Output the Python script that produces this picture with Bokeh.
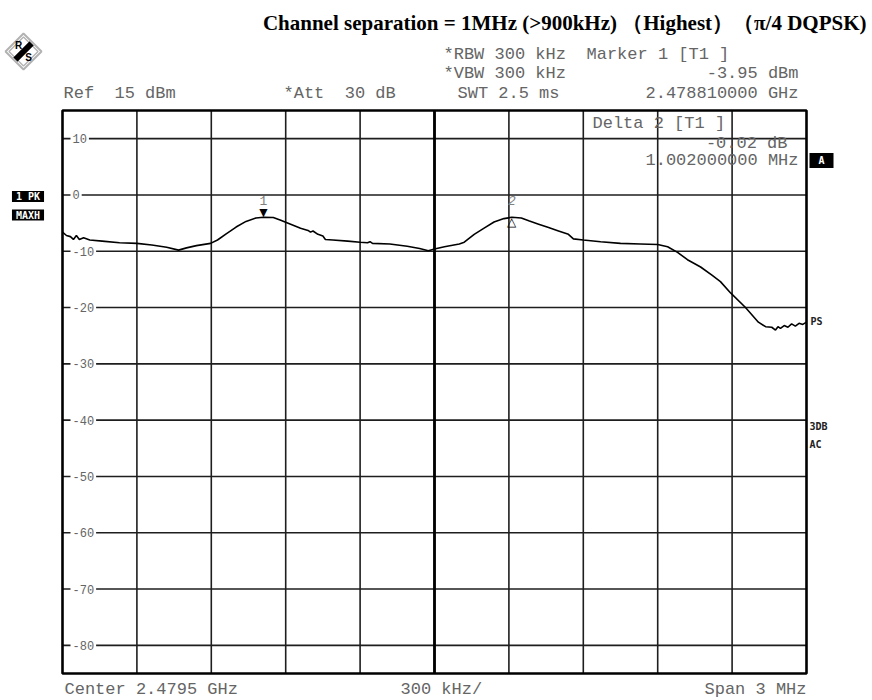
from bokeh.plotting import figure
from bokeh.models import Range1d, Label, PolyAnnotation
from bokeh.core.properties import value
from bokeh.embed import file_html
from bokeh.resources import INLINE

# ---------------- data ----------------
title_text = "Channel separation = 1MHz (>900kHz) \uff08Highest\uff09\uff08\u03c0/4 DQPSK)"
center_ghz = 2.4795
span_mhz = 3.0
div_khz = 300
ref_dbm = 15
db_per_div = 10
n_ydiv = 10
att_db = 30
rbw_khz = 300
vbw_khz = 300
swt_ms = 2.5

marker1_freq_ghz = 2.478810000
marker1_level_dbm = -3.95
delta2_level_db = -0.02
delta2_freq_mhz = 1.002

y_ticks = [10, 0, -10, -20, -30, -40, -50, -60, -70, -80]

trace_offset_mhz = [
    0.000, 0.016, 0.032, 0.044, 0.056, 0.068, 0.085, 0.110, 0.160, 0.230,
    0.300, 0.360, 0.420, 0.468, 0.500, 0.540, 0.597, 0.625, 0.660, 0.700,
    0.740, 0.780, 0.810, 0.850, 0.880, 0.920, 0.960, 0.990, 1.000, 1.010,
    1.030, 1.050, 1.060, 1.090, 1.150, 1.200, 1.230, 1.240, 1.250, 1.320,
    1.390, 1.440, 1.475, 1.500, 1.540, 1.600, 1.620, 1.660, 1.700, 1.740,
    1.780, 1.812, 1.850, 1.880, 1.920, 1.960, 2.000, 2.040, 2.060, 2.100,
    2.170, 2.250, 2.330, 2.400, 2.440, 2.480, 2.520, 2.573, 2.620, 2.653,
    2.694, 2.754, 2.806, 2.835, 2.860, 2.875, 2.885, 2.895, 2.910, 2.925,
    2.940, 2.955, 2.970, 2.985, 3.000,
]
trace_level_dbm = [
    -6.6, -7.2, -7.4, -7.9, -7.2, -7.9, -7.6, -8.0, -8.2, -8.5,
    -8.6, -8.9, -9.3, -9.8, -9.4, -9.0, -8.6, -8.0, -6.9, -5.7,
    -4.7, -4.1, -3.95, -4.0, -4.5, -5.2, -5.9, -6.3, -6.6, -6.4,
    -7.0, -7.3, -7.9, -8.0, -8.2, -8.4, -8.5, -8.3, -8.6, -8.7,
    -9.1, -9.5, -9.9, -9.6, -9.2, -8.7, -8.4, -7.0, -5.9, -4.8,
    -4.2, -3.97, -4.1, -4.6, -5.2, -5.8, -6.4, -7.0, -7.8, -8.0,
    -8.3, -8.6, -8.7, -8.8, -9.2, -10.2, -11.5, -12.8, -14.3, -15.4,
    -17.4, -20.0, -22.6, -23.4, -23.5, -24.0, -23.4, -23.7, -23.2, -23.5,
    -22.9, -23.3, -22.8, -23.0, -22.6,
]

# ---------------- layout (pixels) ----------------
W, H = 872, 700
PL, PR, PT, PB = 62, 806, 110, 673   # spectrum screen box on the canvas

# ---------------- derived ----------------
start_mhz = center_ghz * 1000 - span_mhz / 2
stop_mhz = center_ghz * 1000 + span_mhz / 2
bottom_dbm = ref_dbm - n_ydiv * db_per_div
px_per_mhz = (PR - PL) / span_mhz
px_per_db = (PB - PT) / (ref_dbm - bottom_dbm)

x = [start_mhz + f for f in trace_offset_mhz]
n_div = int(round(span_mhz * 1000 / div_khz))
x_grid = [start_mhz + i * div_khz / 1000 for i in range(1, n_div)]
center_mhz = center_ghz * 1000
m1_x = marker1_freq_ghz * 1000
m2_x = m1_x + delta2_freq_mhz
m2_y = marker1_level_dbm + delta2_level_db

p = figure(width=W, height=H, output_backend="svg", toolbar_location=None,
           x_range=Range1d(start_mhz - PL / px_per_mhz, start_mhz + (W - PL) / px_per_mhz),
           y_range=Range1d(bottom_dbm - (H - PB) / px_per_db, ref_dbm + PT / px_per_db),
           x_axis_location=None, y_axis_location=None,
           min_border=0)
p.background_fill_color = "white"
p.border_fill_color = "white"
p.outline_line_color = None
p.xgrid.visible = False
p.ygrid.visible = False

gcol = "#1e1e1e"
# grid
p.segment(x0=x_grid, y0=[bottom_dbm] * len(x_grid), x1=x_grid, y1=[ref_dbm] * len(x_grid),
          line_color=gcol, line_width=1.6)
p.segment(x0=[start_mhz] * len(y_ticks), y0=y_ticks, x1=[stop_mhz] * len(y_ticks), y1=y_ticks,
          line_color=gcol, line_width=1.6)
p.segment(x0=[center_mhz], y0=[bottom_dbm], x1=[center_mhz], y1=[ref_dbm],
          line_color="black", line_width=2.8)

mono = "Liberation Mono"
gray = "#656565"
NB = "\u00a0"

# y tick labels
for t in y_ticks:
    p.add_layout(Label(x=70, y=t, x_units="screen", y_units="data", text=str(t),
                       text_font=mono, text_font_size="12px", text_color=gray,
                       text_baseline="middle", text_align="left",
                       background_fill_color="white", padding=2))

# frame
p.quad(left=[start_mhz], right=[stop_mhz], bottom=[bottom_dbm], top=[ref_dbm],
       fill_color=None, line_color="black", line_width=2.6)

# trace
p.line(x, trace_level_dbm, line_color="black", line_width=1.6)

# markers
p.text(x=[m1_x], y=[marker1_level_dbm], text=["\u25bc"], text_align="center",
       text_baseline="bottom", text_font_size="14px", text_color="black", y_offset=3)
p.text(x=[m1_x], y=[marker1_level_dbm], text=["1"], text_align="center",
       text_baseline="middle", text_font=value(mono), text_font_size="13px",
       text_color="#808080", y_offset=-17)
p.text(x=[m2_x], y=[m2_y], text=["\u25b3"], text_align="center",
       text_baseline="top", text_font_size="12px", text_color="black", y_offset=-2)
p.text(x=[m2_x], y=[m2_y], text=["2"], text_align="center",
       text_baseline="middle", text_font=value(mono), text_font_size="13px",
       text_color="#808080", text_font_style="italic", y_offset=-17)


def lab(sx, yp, text, align="left", size="17px", color=gray, font=mono, style="normal",
        baseline="middle", **kw):
    p.add_layout(Label(x=sx, y=H - yp, x_units="screen", y_units="screen",
                       text=text.replace(" ", NB),
                       text_font=font, text_font_size=size, text_color=color,
                       text_align=align, text_baseline=baseline, text_font_style=style, **kw))


# title
p.add_layout(Label(x=866, y=H - 22, x_units="screen", y_units="screen", text=title_text,
                   text_font="Liberation Serif", text_font_size="21px", text_color="black",
                   text_align="right", text_baseline="alphabetic", text_font_style="bold"))

# header
lab(443, 54, f"*RBW {rbw_khz} kHz")
lab(586, 54, "Marker 1 [T1 ]")
lab(443, 73, f"*VBW {vbw_khz} kHz")
lab(798, 73, f"{marker1_level_dbm:.2f} dBm", align="right")
lab(457, 93, f"SWT {swt_ms} ms")
lab(798, 93, f"{marker1_freq_ghz:.9f} GHz", align="right")
lab(63, 93, f"Ref  {ref_dbm} dBm")
lab(283, 93, f"*Att  {att_db} dB")

# delta marker readout
lab(592, 123, "Delta 2 [T1 ]")
lab(787, 143, f"{delta2_level_db:.2f} dB", align="right")
lab(798, 160, f"{delta2_freq_mhz:.9f} MHz", align="right")

# footer
lab(64, 689, f"Center {center_ghz} GHz")
lab(400, 689, f"{div_khz} kHz/")
lab(806, 689, f"Span {span_mhz:g} MHz", align="right")

# side tags
bold_font = "DejaVu Sans Mono"
lab(27.5, 196, "1 PK", align="center", size="10px", color="white", font=bold_font, style="bold",
    background_fill_color="black", padding=(4, 0))
lab(27.5, 214.5, "MAXH", align="center", size="10px", color="white", font=bold_font, style="bold",
    background_fill_color="black", padding=(4, 0))
lab(821, 160, "A", align="center", size="10px", color="white", font=bold_font, style="bold",
    background_fill_color="black", padding=(9, 2))
lab(810, 321, "PS", size="10px", color="#222222", font=bold_font, style="bold")
lab(809, 426, "3DB", size="10px", color="#222222", font=bold_font, style="bold")
lab(809, 444, "AC", size="10px", color="#222222", font=bold_font, style="bold")

# R&S logo
cx, cy = 23, H - 51
for h, lw in ((18, 2.0), (14.5, 1.4)):
    p.add_layout(PolyAnnotation(xs=[cx, cx + h, cx, cx - h], ys=[cy + h, cy, cy - h, cy],
                                xs_units="screen", ys_units="screen",
                                fill_alpha=0, line_color="black", line_width=lw))
p.add_layout(PolyAnnotation(xs=[cx - 10, cx - 6, cx + 10, cx + 6], ys=[cy - 6, cy - 10, cy + 6, cy + 10],
                            xs_units="screen", ys_units="screen",
                            fill_color="black", fill_alpha=1, line_color="black", line_width=1))
lab(cx - 5, 51 - 6, "R", align="center", size="10px", color="black", font="Liberation Sans", style="bold")
lab(cx + 5, 51 + 6, "S", align="center", size="10px", color="black", font="Liberation Sans", style="bold")

open("out.html", "w").write(file_html(p, INLINE))
